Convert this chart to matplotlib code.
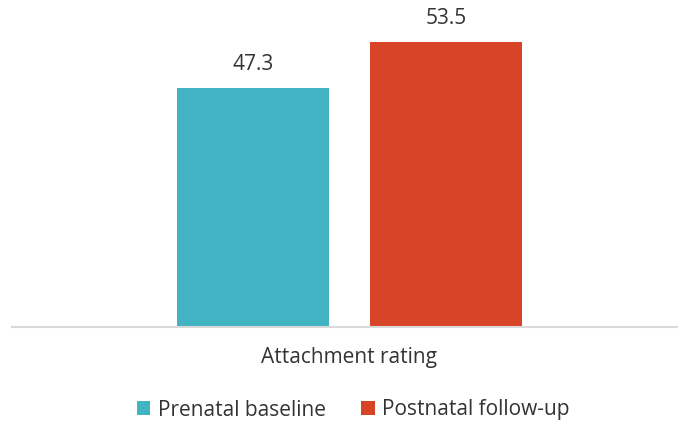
import matplotlib.pyplot as plt
from matplotlib.patches import Patch

# data
category = "Attachment rating"
series = ["Prenatal baseline", "Postnatal follow-up"]
values = [47.3, 53.5]
colors = ["#41B3C3", "#D84427"]

plt.rcParams['font.family'] = ['Open Sans', 'DejaVu Sans']

fig = plt.figure(figsize=(6.78, 4.26), dpi=100)
ax = fig.add_axes([12 / 678, 1 - 326.5 / 426, 666 / 678, 295.5 / 426])

width = 0.4
offsets = [-0.254, 0.254]
for off, v, c in zip(offsets, values, colors):
    ax.bar(off, v, width=width, color=c, zorder=2)
    ax.text(off, v + 1.8, f"{v:.1f}", ha="center", va="bottom", fontsize=15, color="#333333")

ax.set_ylim(15, 55)
ax.set_xlim(-0.888, 0.8645)
ax.set_yticks([])
ax.set_xticks([0])
ax.set_xticklabels([category], fontsize=15, color="#333333")
ax.tick_params(axis="x", length=0, pad=15)
for s in ["top", "right", "left"]:
    ax.spines[s].set_visible(False)
ax.spines["bottom"].set_color("#D9D9D9")
ax.spines["bottom"].set_linewidth(1.5)

handles = [Patch(facecolor=c, label=s) for s, c in zip(series, colors)]
fig.legend(handles=handles, loc="center", bbox_to_anchor=(353 / 678, 1 - 410 / 426),
           ncol=2, frameon=False, fontsize=15, handlelength=0.65, handleheight=0.65,
           handletextpad=0.35, columnspacing=1.7, labelcolor="#333333")

fig.savefig("out.png", dpi=100)
